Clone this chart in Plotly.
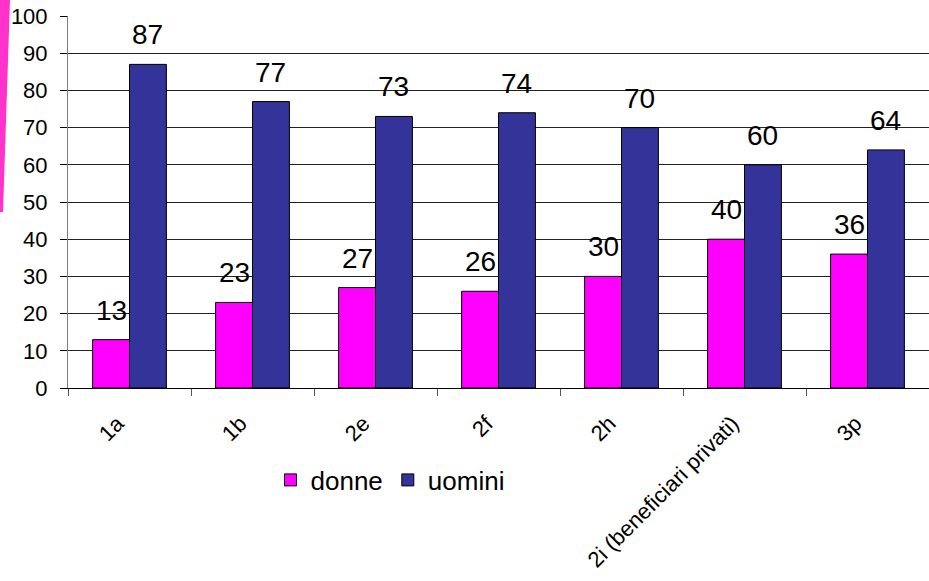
import plotly.graph_objects as go

categories = ["1a", "1b", "2e", "2f", "2h", "2i (beneficiari privati)", "3p"]
donne = [13, 23, 27, 26, 30, 40, 36]
uomini = [87, 77, 73, 74, 70, 60, 64]

W, H = 929, 581
L, R, T, B = 68, 0, 16, 193
PW, PH = W - L - R, H - T - B
BARGAP = 0.4


def px(x, y):
    # page pixels -> paper coords
    return (x - L) / PW, (H - B - y) / PH


FONT = "Arial, Liberation Sans, sans-serif"

fig = go.Figure()
fig.add_trace(go.Bar(
    name="donne", x=categories, y=donne,
    marker=dict(color="#FF00FF", line=dict(color="#000000", width=1)),
))
fig.add_trace(go.Bar(
    name="uomini", x=categories, y=uomini,
    marker=dict(color="#333399", line=dict(color="#000000", width=1)),
))

# value labels above each bar (shifted half a bar width left/right)
half_bar = PW / len(categories) * (1 - BARGAP) / 4
for vals, shift in ((donne, -half_bar), (uomini, half_bar)):
    for cat, v in zip(categories, vals):
        fig.add_annotation(
            x=cat, y=v, text=str(v), showarrow=False,
            xanchor="center", yanchor="bottom", xshift=shift, yshift=12,
            font=dict(family=FONT, size=28, color="#000000"),
        )

# pink slide-edge strip on the far left
pts = [px(0, 0), px(10, 0), px(3, 212), px(0, 212)]
path = "M " + " L ".join(f"{a},{b}" for a, b in pts) + " Z"
fig.add_shape(type="path", path=path, xref="paper", yref="paper",
              fillcolor="#FF33CC", line=dict(width=0), layer="above")

lx, ly = px(390, 480)
fig.update_layout(
    width=W, height=H,
    margin=dict(l=L, r=R, t=T, b=B),
    paper_bgcolor="white", plot_bgcolor="white",
    barmode="group", bargap=BARGAP, bargroupgap=0,
    font=dict(family=FONT, size=22, color="#000000"),
    legend=dict(orientation="h", x=lx, y=ly, xanchor="center", yanchor="middle",
                font=dict(size=26), itemwidth=30, traceorder="normal"),
)
fig.update_xaxes(
    tickangle=-45, tickfont=dict(size=22), tickson="boundaries",
    ticks="outside", ticklen=7, tickcolor="#555555",
    ticklabelstandoff=13, ticklabelshift=-12,
    showline=True, linecolor="#000000", linewidth=1, showgrid=False,
)
fig.update_yaxes(
    range=[0, 100], dtick=10, tickfont=dict(size=22),
    ticks="outside", ticklen=7, tickcolor="#000000", ticklabelstandoff=8,
    showline=True, linecolor="#808080", linewidth=1,
    showgrid=True, gridcolor="#222222", gridwidth=1, zeroline=False,
)

fig.write_html("out.html", config={"displayModeBar": False},
               post_script="document.body.style.margin='0';")
